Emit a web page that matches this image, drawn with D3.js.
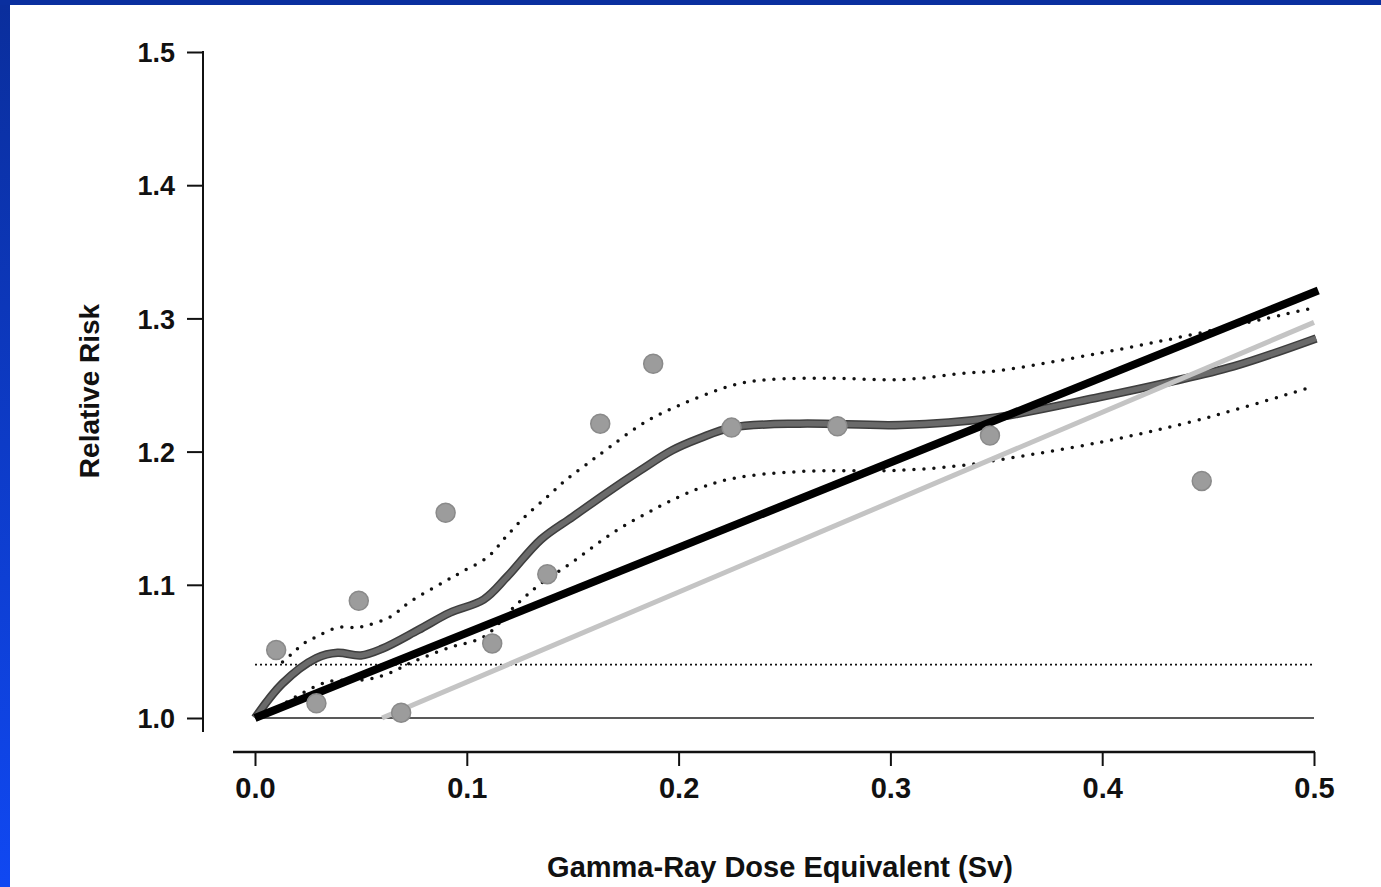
<!DOCTYPE html>
<html>
<head>
<meta charset="utf-8">
<script src="https://cdn.jsdelivr.net/npm/d3@7"></script>
<style>
  html, body { margin: 0; padding: 0; background: #fff; }
  svg { display: block; }
  text { font-family: "Liberation Sans", Arial, Helvetica, sans-serif; font-weight: bold; fill: #111; }
</style>
</head>
<body>
<svg id="chart" width="1381" height="887"></svg>
<script>
// ---- data ----
const xTicks = [0.0, 0.1, 0.2, 0.3, 0.4, 0.5];
const yTicks = [1.0, 1.1, 1.2, 1.3, 1.4, 1.5];

const pointDose = [0.010, 0.029, 0.049, 0.069, 0.090, 0.112, 0.138, 0.163, 0.188, 0.225, 0.275, 0.347, 0.447];
const pointRR   = [1.051, 1.011, 1.088, 1.004, 1.154, 1.056, 1.108, 1.221, 1.266, 1.218, 1.219, 1.212, 1.178];

const smoothDose = [0, 0.013, 0.029, 0.039, 0.050, 0.060, 0.077, 0.092, 0.108, 0.119, 0.135, 0.150, 0.166, 0.182, 0.197, 0.210, 0.225, 0.257, 0.305, 0.347, 0.399, 0.431, 0.462, 0.501];
const smoothRR   = [1.0, 1.026, 1.045, 1.049, 1.047, 1.052, 1.066, 1.079, 1.089, 1.106, 1.134, 1.151, 1.169, 1.186, 1.201, 1.210, 1.218, 1.221, 1.220, 1.225, 1.241, 1.252, 1.264, 1.285];

const upperDose = [0.013, 0.018, 0.023, 0.029, 0.039, 0.048, 0.054, 0.064, 0.073, 0.089, 0.098, 0.110, 0.119, 0.128, 0.138, 0.147, 0.157, 0.168, 0.182, 0.195, 0.226, 0.242, 0.273, 0.305, 0.336, 0.352, 0.399, 0.446, 0.500];
const upperRR   = [1.042, 1.049, 1.056, 1.061, 1.068, 1.068, 1.070, 1.076, 1.087, 1.102, 1.110, 1.121, 1.137, 1.152, 1.166, 1.179, 1.191, 1.204, 1.220, 1.231, 1.250, 1.254, 1.255, 1.254, 1.259, 1.261, 1.274, 1.289, 1.308];

const lowerDose = [0.015, 0.034, 0.053, 0.064, 0.073, 0.092, 0.108, 0.124, 0.135, 0.149, 0.169, 0.190, 0.209, 0.226, 0.257, 0.305, 0.336, 0.352, 0.399, 0.446, 0.500];
const lowerRR   = [1.012, 1.027, 1.029, 1.034, 1.041, 1.053, 1.061, 1.086, 1.101, 1.116, 1.139, 1.158, 1.172, 1.180, 1.185, 1.186, 1.190, 1.194, 1.207, 1.224, 1.249];

const linearDose = [0, 0.502];          // black linear fit
const linearRR   = [1.0, 1.321];
const thresholdDose = [0.060, 0.500];   // light gray threshold fit
const thresholdRR   = [1.0, 1.297];

const refDose = [0, 0.5];
const baseRR = [1.0, 1.0];
const dotRR  = [1.04, 1.04];

// ---- layout ----
const svg = d3.select("#chart");
const W = 1381, H = 887;

// blue frame
const defs = svg.append("defs");
const grad = defs.append("linearGradient").attr("id", "blueEdge").attr("x1", 0).attr("y1", 0).attr("x2", 0).attr("y2", 1);
grad.append("stop").attr("offset", "0%").attr("stop-color", "#0a2e9c");
grad.append("stop").attr("offset", "100%").attr("stop-color", "#1048f2");
svg.append("rect").attr("x", 0).attr("y", 0).attr("width", W).attr("height", H).attr("fill", "#fff");
svg.append("rect").attr("x", 0).attr("y", 0).attr("width", 10).attr("height", H).attr("fill", "url(#blueEdge)");
svg.append("rect").attr("x", 0).attr("y", 0).attr("width", W).attr("height", 5).attr("fill", "#0a2f9f");

const x = d3.scaleLinear().domain([0, 0.5]).range([255, 1314]);
const y = d3.scaleLinear().domain([1.0, 1.5]).range([718, 52]);

// y axis
const yAxis = d3.axisLeft(y).tickValues(yTicks).tickFormat(d3.format(".1f")).tickSize(16).tickPadding(12);
const gy = svg.append("g").attr("transform", "translate(203,0)").call(yAxis);
gy.select(".domain").remove();
gy.append("line").attr("x1", 0).attr("x2", 0).attr("y1", y(1.5) - 1).attr("y2", 732).attr("stroke", "#111").attr("stroke-width", 2);
gy.selectAll(".tick line").attr("stroke", "#111").attr("stroke-width", 2);
gy.selectAll(".tick text").style("font-size", "27px").attr("fill", "#111").attr("dy", "0.36em");

// x axis
const xAxis = d3.axisBottom(x).tickValues(xTicks).tickFormat(d3.format(".1f")).tickSize(14).tickPadding(11);
const gx = svg.append("g").attr("transform", "translate(0,752)").call(xAxis);
gx.select(".domain").remove();
gx.append("line").attr("x1", 233).attr("x2", 1315).attr("y1", 0).attr("y2", 0).attr("stroke", "#111").attr("stroke-width", 2.5);
gx.selectAll(".tick line").attr("stroke", "#111").attr("stroke-width", 2);
gx.selectAll(".tick text").style("font-size", "29px").attr("fill", "#111");

// axis titles
svg.append("text").attr("x", 780).attr("y", 877).attr("text-anchor", "middle").style("font-size", "29px").text("Gamma-Ray Dose Equivalent (Sv)");
svg.append("text").attr("transform", "translate(99,391) rotate(-90)").attr("text-anchor", "middle").style("font-size", "28px").text("Relative Risk");

const zip = (a, b) => a.map((d, i) => [d, b[i]]);
const line = d3.line().x(d => x(d[0])).y(d => y(d[1]));
const smooth = d3.line().x(d => x(d[0])).y(d => y(d[1])).curve(d3.curveCatmullRom.alpha(0.5));

// reference lines
svg.append("path").attr("d", line(zip(refDose, baseRR))).attr("fill", "none").attr("stroke", "#222").attr("stroke-width", 1.6);
svg.append("path").attr("d", line(zip(refDose, dotRR))).attr("fill", "none").attr("stroke", "#111").attr("stroke-width", 1.8).attr("stroke-dasharray", "2,3");

// confidence bands (dotted)
[zip(upperDose, upperRR), zip(lowerDose, lowerRR)].forEach(pts => {
  svg.append("path").attr("d", smooth(pts)).attr("fill", "none").attr("stroke", "#111")
    .attr("stroke-width", 3.5).attr("stroke-linecap", "round").attr("stroke-dasharray", "0,10");
});

// smooth curve
const sm = zip(smoothDose, smoothRR);
svg.append("path").attr("d", smooth(sm)).attr("fill", "none").attr("stroke", "#3e3e3e").attr("stroke-width", 8.5);
svg.append("path").attr("d", smooth(sm)).attr("fill", "none").attr("stroke", "#6a6a6a").attr("stroke-width", 5.5);

// threshold line (light gray)
svg.append("path").attr("d", line(zip(thresholdDose, thresholdRR))).attr("fill", "none").attr("stroke", "#c4c4c4").attr("stroke-width", 5);

// linear fit (black)
svg.append("path").attr("d", line(zip(linearDose, linearRR))).attr("fill", "none").attr("stroke", "#000").attr("stroke-width", 8);

// points
svg.append("g").selectAll("circle").data(zip(pointDose, pointRR)).join("circle")
  .attr("cx", d => x(d[0])).attr("cy", d => y(d[1])).attr("r", 9.5)
  .attr("fill", "#9c9c9c").attr("stroke", "#8a8a8a").attr("stroke-width", 1.5);
</script>
</body>
</html>
